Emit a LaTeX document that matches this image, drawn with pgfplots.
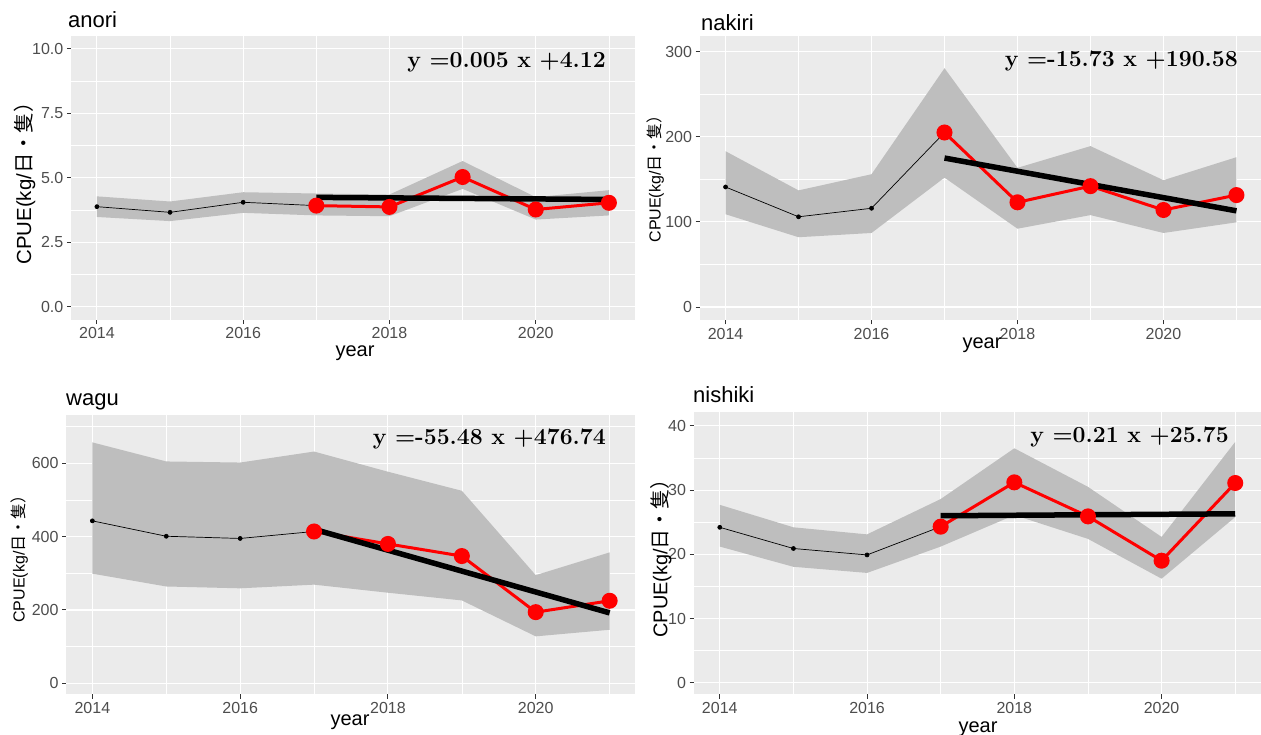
\documentclass[border=0pt]{standalone}
\usepackage{fontspec}
\usepackage{pgfplots}
\pgfplotsset{compat=1.18}
\newfontfamily\arial{Liberation Sans}
\newfontfamily\jp{Noto Sans CJK JP}
\definecolor{panel}{HTML}{EBEBEB}
\definecolor{rib}{HTML}{BEBEBE}
\definecolor{tickc}{HTML}{4D4D4D}
\definecolor{tickm}{HTML}{333333}
\pgfplotsset{
 gg/.style={
  scale only axis,
  anchor=south west,
  axis background/.style={fill=panel},
  axis line style={draw=none},
  xmin=2013.65, xmax=2021.35,
  xtick={2014,2016,2018,2020},
  xticklabels={2014,2016,2018,2020},
  minor xtick={2015,2017,2019,2021},
  xmajorgrids, ymajorgrids, xminorgrids, yminorgrids,
  major grid style={white, line width=1.1pt},
  minor grid style={white, line width=0.55pt},
  tick align=outside,
  major tick length=4.5pt,
  minor tick length=0pt,
  tick style={tickm, line width=1pt},
  xtick pos=left, ytick pos=left,
  ticklabel style={font=\arial\fontsize{16}{18}\selectfont, text=tickc},
 },
 ribbon/.style={fill=rib, draw=none},
 thin/.style={black, line width=0.7pt, mark=*, mark size=2pt},
 redl/.style={red, line width=3pt, mark=*, mark size=6.5pt, mark options={solid}},
 reg/.style={black, line width=5.5pt},
}
\newcommand\eqfont{\rmfamily\bfseries\fontsize{23}{27}\selectfont}
\newcommand\ttl{\arial\fontsize{22}{26}\selectfont}
\newcommand\xl{\arial\fontsize{20}{24}\selectfont}
\begin{document}
\begin{tikzpicture}[x=1pt,y=1pt]
\useasboundingbox (0,0) rectangle (1261,735);
% ---------------- anori
\begin{axis}[gg, at={(71.3pt,415.4pt)}, width=563.2pt, height=283.6pt,
  ymin=-0.5, ymax=10.5,
  ytick={0,2.5,5,7.5,10}, yticklabels={0.0,2.5,5.0,7.5,10.0},
  minor ytick={1.25,3.75,6.25,8.75}]
\addplot[ribbon] coordinates {(2014,4.28)(2015,4.08)(2016,4.44)(2017,4.39)(2018,4.35)(2019,5.65)(2020,4.25)(2021,4.52)
 (2021,3.54)(2020,3.38)(2019,4.57)(2018,3.51)(2017,3.54)(2016,3.64)(2015,3.32)(2014,3.48)} -- cycle;
\addplot[thin] coordinates {(2014,3.88)(2015,3.66)(2016,4.05)(2017,3.92)};
\addplot[redl] coordinates {(2017,3.92)(2018,3.87)(2019,5.03)(2020,3.77)(2021,4.03)};
\addplot[reg] coordinates {(2017,4.24)(2021,4.16)};
\end{axis}
% ---------------- nakiri
\begin{axis}[gg, at={(700pt,415pt)}, width=562pt, height=284.3pt,
  ymin=-15.2, ymax=318.7,
  ytick={0,100,200,300}, yticklabels={0,100,200,300},
  minor ytick={50,150,250}]
\addplot[ribbon] coordinates {(2014,183)(2015,137)(2016,156)(2017,280.5)(2018,163.5)(2019,189)(2020,149)(2021,176)
 (2021,99.5)(2020,87)(2019,108)(2018,92)(2017,152)(2016,87)(2015,82)(2014,109)} -- cycle;
\addplot[thin] coordinates {(2014,141)(2015,106)(2016,116)(2017,205)};
\addplot[redl] coordinates {(2017,205)(2018,123)(2019,142)(2020,114)(2021,131.5)};
\addplot[reg] coordinates {(2017,175)(2021,113)};
\end{axis}
% ---------------- wagu
\begin{axis}[gg, at={(66.5pt,40.7pt)}, width=569pt, height=279.3pt,
  ymin=-30, ymax=731.7,
  ytick={0,200,400,600}, yticklabels={0,200,400,600},
  minor ytick={100,300,500,700}]
\addplot[ribbon] coordinates {(2014,657)(2015,605)(2016,602)(2017,632)(2018,577)(2019,525)(2020,295)(2021,357)
 (2021,146)(2020,128)(2019,226)(2018,247)(2017,269)(2016,259)(2015,264)(2014,299)} -- cycle;
\addplot[thin] coordinates {(2014,443)(2015,401)(2016,395)(2017,414)};
\addplot[redl] coordinates {(2017,414)(2018,380)(2019,347)(2020,194)(2021,225)};
\addplot[reg] coordinates {(2017,420)(2021,192)};
\end{axis}
% ---------------- nishiki
\begin{axis}[gg, at={(694pt,40.7pt)}, width=567pt, height=282.6pt,
  ymin=-1.8, ymax=42.2,
  ytick={0,10,20,30,40}, yticklabels={0,10,20,30,40},
  minor ytick={5,15,25,35}]
\addplot[ribbon] coordinates {(2014,27.7)(2015,24.2)(2016,23.1)(2017,28.6)(2018,36.5)(2019,30.5)(2020,22.7)(2021,37.5)
 (2021,25.8)(2020,16.2)(2019,22.4)(2018,26.1)(2017,21.2)(2016,17.1)(2015,18.05)(2014,21.2)} -- cycle;
\addplot[thin] coordinates {(2014,24.2)(2015,20.9)(2016,19.9)(2017,24.3)};
\addplot[redl] coordinates {(2017,24.3)(2018,31.2)(2019,25.9)(2020,19.0)(2021,31.1)};
\addplot[reg] coordinates {(2017,26.0)(2021,26.3)};
\end{axis}
% ---------------- titles
\node[anchor=base west, inner sep=0] at (68,707.5) {\ttl anori};
\node[anchor=base west, inner sep=0] at (701,704) {\ttl nakiri};
\node[anchor=base west, inner sep=0] at (66,329) {\ttl wagu};
\node[anchor=base west, inner sep=0] at (693,332) {\ttl nishiki};
% ---------------- x labels
\node[anchor=base, inner sep=0] at (355,378) {\xl year};
\node[anchor=base, inner sep=0] at (982,386) {\xl year};
\node[anchor=base, inner sep=0] at (350,9) {\xl year};
\node[anchor=base, inner sep=0] at (978,2.5) {\xl year};
% ---------------- y labels
\node[rotate=90, inner sep=0] at (24.5,556.5) {\arial\fontsize{20.4}{24}\selectfont CPUE(kg/{\jp 日・隻）}};
\node[rotate=90, inner sep=0] at (655.5,560) {\arial\fontsize{16}{19}\selectfont CPUE(kg/{\jp 日・隻）}};
\node[rotate=90, inner sep=0] at (19.5,180) {\arial\fontsize{16}{19}\selectfont CPUE(kg/{\jp 日・隻）}};
\node[rotate=90, inner sep=0] at (661,181.5) {\arial\fontsize{19.9}{24}\selectfont CPUE(kg/{\jp 日・隻）}};
% ---------------- equations
\node[anchor=base east, inner sep=0] at (606,667) {\eqfont y =0.005 x +4.12};
\node[anchor=base east, inner sep=0] at (1238,668) {\eqfont y =-15.73 x +190.58};
\node[anchor=base east, inner sep=0] at (606,290) {\eqfont y =-55.48 x +476.74};
\node[anchor=base east, inner sep=0] at (1229,292) {\eqfont y =0.21 x +25.75};
\end{tikzpicture}
\end{document}
